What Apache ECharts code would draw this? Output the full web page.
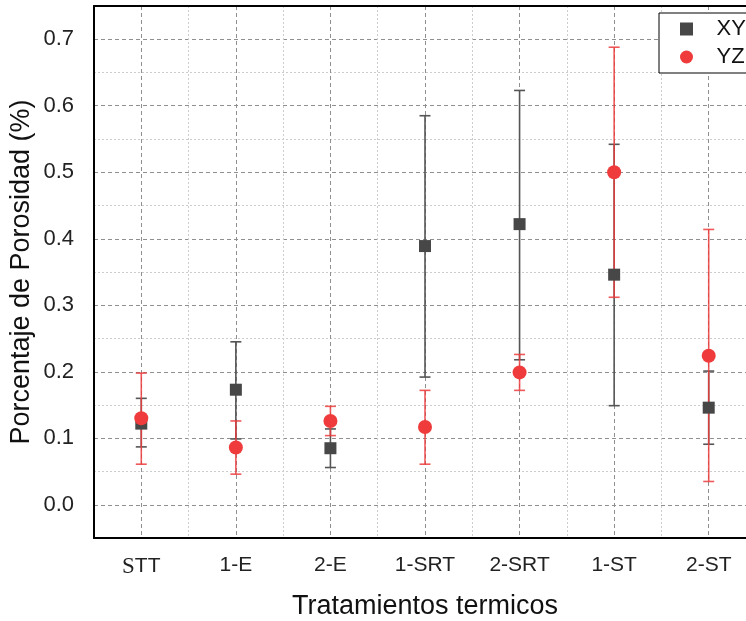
<!DOCTYPE html>
<html>
<head>
<meta charset="utf-8">
<script src="https://cdn.jsdelivr.net/npm/echarts@6/dist/echarts.min.js"></script>
<style>
  html, body { margin: 0; padding: 0; background: #fff; }
  #chart { width: 746px; height: 621px; }
</style>
</head>
<body>
<div id="chart"></div>
<script>
// Heat treatments and porosity (%) measured in the XY and YZ planes
const categories = ['STT', '1-E', '2-E', '1-SRT', '2-SRT', '1-ST', '2-ST'];

const xyMean = [0.122, 0.173, 0.085, 0.389, 0.422, 0.346, 0.146];
const xyLow  = [0.087, 0.099, 0.056, 0.192, 0.218, 0.149, 0.091];
const xyHigh = [0.160, 0.245, 0.114, 0.585, 0.623, 0.542, 0.201];

const yzMean = [0.130, 0.086, 0.126, 0.117, 0.199, 0.500, 0.224];
const yzLow  = [0.061, 0.046, 0.104, 0.061, 0.172, 0.312, 0.035];
const yzHigh = [0.198, 0.126, 0.148, 0.172, 0.226, 0.688, 0.414];

const yTickLabels = ['0.0', '0.1', '0.2', '0.3', '0.4', '0.5', '0.6', '0.7'];

const XY_COLOR = '#474747';
const YZ_COLOR = '#ef3b3b';
const FONT = 'Liberation Sans, Arial, sans-serif';
const MAJOR_GRID = { color: '#8f8f8f', type: [4, 3], width: 1 };
const MINOR_GRID = { color: '#cdcdcd', type: [2, 2], width: 1 };
const FRAME = { show: true, onZero: false, lineStyle: { color: '#000', width: 2 } };

// vertical whisker with caps, from the low to the high value
function errorBar(color, width) {
  return function (params, api) {
    const i = api.value(0);
    const lo = api.coord([i, api.value(1)]);
    const hi = api.coord([i, api.value(2)]);
    const hw = 5.5;
    const style = { stroke: color, lineWidth: width };
    return {
      type: 'group',
      children: [
        { type: 'line', shape: { x1: lo[0], y1: lo[1], x2: hi[0], y2: hi[1] }, style: style },
        { type: 'line', shape: { x1: lo[0] - hw, y1: lo[1], x2: lo[0] + hw, y2: lo[1] }, style: style },
        { type: 'line', shape: { x1: hi[0] - hw, y1: hi[1], x2: hi[0] + hw, y2: hi[1] }, style: style }
      ]
    };
  };
}

const chart = echarts.init(document.getElementById('chart'), null, { renderer: 'canvas' });

chart.setOption({
  animation: false,
  backgroundColor: '#fff',
  grid: {
    left: 94, top: 6, width: 662, height: 532,
    outerBoundsMode: 'none',
    show: false
  },
  legend: {
    orient: 'vertical',
    left: 659, top: 13,
    backgroundColor: '#fff',
    borderColor: '#000', borderWidth: 1, borderRadius: 0,
    padding: [5, 40, 5, 21],
    itemGap: 6,
    itemWidth: 50, itemHeight: 13,
    symbolKeepAspect: true,
    textStyle: { fontSize: 22, color: '#111', fontFamily: FONT },
    data: [
      { name: 'XY', icon: 'path://M0,0H10V10H0Z' },
      { name: 'YZ', icon: 'circle' }
    ]
  },
  xAxis: [
    {
      type: 'category',
      data: categories,
      boundaryGap: true,
      position: 'bottom',
      z: 3,
      name: 'Tratamientos termicos',
      nameLocation: 'middle',
      nameGap: 55,
      nameTextStyle: { fontSize: 27, color: '#111', fontFamily: FONT },
      axisLine: FRAME,
      axisTick: { show: false },
      splitLine: { show: false },
      axisLabel: {
        interval: 0,
        margin: 17,
        fontSize: 21,
        color: '#222',
        fontFamily: FONT,
        formatter: function (v) { return v === 'STT' ? '{ser|S}{san|TT}' : v; },
        rich: {
          ser: { fontSize: 23, fontFamily: 'Liberation Serif, DejaVu Serif, serif', color: '#222' },
          san: { fontSize: 21, fontFamily: FONT, color: '#222' }
        }
      }
    },
    {
      // grid helper: light lines between treatments, dashed lines through each one;
      // its line along the top closes the frame
      type: 'value',
      position: 'top',
      z: 1,
      min: -0.5, max: 6.5, interval: 1,
      axisLine: FRAME,
      axisTick: { show: false },
      axisLabel: { show: false },
      splitLine: { show: true, showMinLine: false, showMaxLine: false, lineStyle: MINOR_GRID },
      minorTick: { show: false, splitNumber: 2 },
      minorSplitLine: { show: true, lineStyle: MAJOR_GRID }
    }
  ],
  yAxis: [
    {
      type: 'value',
      position: 'left',
      min: -0.05, max: 0.75, interval: 0.05,
      z: 3,
      name: 'Porcentaje de Porosidad (%)',
      nameLocation: 'middle',
      nameGap: 59,
      nameMoveOverlap: false,
      nameTextStyle: { fontSize: 27, color: '#111', fontFamily: FONT },
      axisLine: FRAME,
      axisTick: { show: false },
      splitLine: { show: false },
      axisLabel: {
        margin: 20,
        fontSize: 22,
        color: '#222',
        fontFamily: FONT,
        formatter: function (v) {
          const k = Math.round(v * 20);
          if (k < 0 || k % 2) return '';
          return yTickLabels[k / 2] || '';
        }
      }
    },
    {
      // grid helper: dashed lines at every 0.1, lighter ones halfway between
      type: 'value',
      position: 'left',
      z: 1,
      min: -0.05, max: 0.75, interval: 0.1,
      axisLine: { show: false, onZero: false },
      axisTick: { show: false },
      axisLabel: { show: false },
      splitLine: { show: true, showMinLine: false, showMaxLine: false, lineStyle: MINOR_GRID },
      minorTick: { show: false, splitNumber: 2 },
      minorSplitLine: { show: true, lineStyle: MAJOR_GRID }
    }
  ],
  series: [
    {
      name: 'XY-err', type: 'custom', z: 2,
      renderItem: errorBar('#555', 1.6),
      data: categories.map((c, i) => [i, xyLow[i], xyHigh[i]])
    },
    {
      name: 'YZ-err', type: 'custom', z: 3,
      renderItem: errorBar('rgba(236,60,60,0.85)', 1.6),
      data: categories.map((c, i) => [i, yzLow[i], yzHigh[i]])
    },
    {
      name: 'XY', type: 'scatter', z: 4,
      symbol: 'rect', symbolSize: 12,
      itemStyle: { color: XY_COLOR, opacity: 1 },
      data: categories.map((c, i) => [i, xyMean[i]])
    },
    {
      name: 'YZ', type: 'scatter', z: 5,
      symbol: 'circle', symbolSize: 14,
      itemStyle: { color: YZ_COLOR, opacity: 1 },
      data: categories.map((c, i) => [i, yzMean[i]])
    }
  ]
});
</script>
</body>
</html>
